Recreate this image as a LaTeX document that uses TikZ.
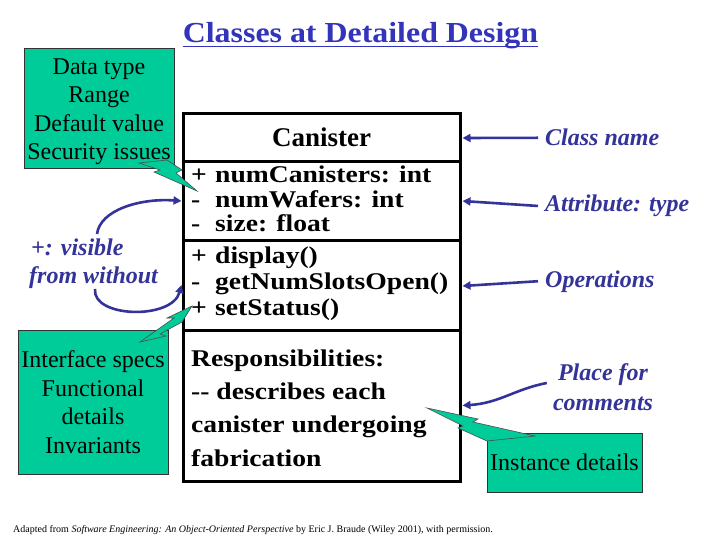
\documentclass[tikz,border=0pt]{standalone}
\usepackage{fontspec}
\setmainfont{Liberation Serif}
\newfontfamily\titleserif[FakeStretch=1.1]{Liberation Serif}
\newfontfamily\wideserif[FakeStretch=1.15]{Liberation Serif}
\usetikzlibrary{arrows.meta}

\definecolor{titleblue}{RGB}{51,51,187}
\definecolor{noteblue}{RGB}{51,51,153}
\definecolor{notegreen}{RGB}{0,204,153}

% sign column of a member line
\newcommand{\vis}[1]{\makebox[24pt][l]{#1}}

\tikzset{
  greennote/.style={draw=black!80, line width=0.8pt, fill=notegreen, inner sep=0},
  notetext/.style={inner sep=0, align=center, font=\fontsize{24}{28.5}\selectfont},
  bolt/.style={draw=black!70, line width=0.6pt, fill=notegreen},
  compart/.style={draw, line width=3pt, inner sep=0, minimum width=277},
  membertext/.style={anchor=base west, inner sep=0, font=\wideserif\bfseries\fontsize{24}{24}\selectfont},
  bluelabel/.style={anchor=base west, inner sep=0, text=noteblue, font=\bfseries\itshape\fontsize{24}{30}\selectfont},
  labelarrow/.style={draw=noteblue, line width=2.6pt, -{Triangle[length=8pt,width=8pt]}},
}

\begin{document}
\begin{tikzpicture}[x=1pt, y=-1pt]
\useasboundingbox (0,0) rectangle (720,540);

% Title
\node[anchor=base, inner sep=0, text=titleblue,
  font=\titleserif\bfseries\fontsize{29}{29}\selectfont] (title) at (360.5,43) {Classes at Detailed Design};
\draw[titleblue, line width=1.8pt] ([yshift=-3.5]title.base west) -- ([yshift=-3.5]title.base east);

% Green notes
\node[greennote, minimum width=150, minimum height=120] (datanote) at (99,108) {};
\node[notetext] (datatext) at (99,111.7) {Data type\\Range\\Default value\\Security issues};
\node[greennote, notetext, minimum width=150, minimum height=144] (ifacenote) at (93,402)
  {Interface specs\\Functional\\details\\Invariants};
\node[greennote, notetext, minimum width=155, minimum height=59] (instnote) at (564.5,462.5) {Instance details};

% Class compartments
\node[compart, minimum height=48] (cname) at (321.5,138) {};
\node[compart, minimum height=78] (attrs) at (321.5,201) {};
\node[compart, minimum height=90] (ops) at (321.5,285) {};
\node[compart, minimum height=151] (resp) at (321.5,405.5) {};

\node[anchor=base, inner sep=0, font=\bfseries\fontsize{27}{27}\selectfont] (clsnametext) at (321.5,147) {Canister};

\node[membertext] (attra) at (191,183) {\vis{+}numCanisters: int};
\node[membertext] (attrb) at (191,207.5) {\vis{-}numWafers: int};
\node[membertext] (attrc) at (191,232) {\vis{-}size: float};

\node[membertext] (opa) at (191,263) {\vis{+}display()};
\node[membertext] (opb) at (191,289) {\vis{-}getNumSlotsOpen()};
\node[membertext] (opc) at (191,315) {\vis{+}setStatus()};

\node[membertext] (respa) at (191,366) {Responsibilities:};
\node[membertext] (respb) at (191,399) {-{}- describes each};
\node[membertext] (respc) at (191,432) {canister undergoing};
\node[membertext] (respd) at (191,466) {fabrication};

% Lightning callouts
\draw[bolt] (139,163) -- (160,170) -- (154,172) -- (197,191) -- (176,173) -- (182,170) -- (167,160) -- cycle;
\draw[bolt] (192,306) -- (167,318) -- (174,318) -- (140,342) -- (166,336) -- (160,334) -- (182,322) -- cycle;
\draw[bolt] (427,408) -- (478,419) -- (473,422) -- (535,436) -- (487,441) -- (458,428) -- (463,426) -- cycle;

% Blue labels
\node[bluelabel] (clsname) at (545,146) {Class name};
\node[bluelabel] (attrlabel) at (545,211.7) {Attribute: type};
\node[bluelabel] (oplabel) at (545,287) {Operations};
\node[bluelabel, anchor=center, align=center] (comments) at (603,387) {Place for\\comments};
\node[bluelabel] (visible) at (31,255) {+: visible};
\node[bluelabel] (without) at (29,283) {from without};

\coordinate (vistop) at (97,234);
\coordinate (withoutbot) at (95,289);

% Arrows
\draw[labelarrow] ([xshift=-7]clsname.west) -- ([xshift=1]cname.east);
\draw[labelarrow] ([xshift=-7]attrlabel.west) -- ([xshift=1]attrs.east);
\draw[labelarrow] ([xshift=-7]oplabel.west) -- ([xshift=1,yshift=-1]ops.east);
\draw[labelarrow] ([xshift=-6,yshift=4]comments.west) .. controls (515,389) and (500,403) .. ([xshift=1]resp.east);
\draw[labelarrow] (vistop) .. controls (100,210) and (140,198) .. (attrs.west);
\draw[labelarrow] (withoutbot) .. controls (92,318) and (172,320) .. (ops.west);

% Credit line
\node[anchor=base west, inner sep=0, font=\fontsize{10}{10}\selectfont] (credit) at (13,532)
  {Adapted from \textit{Software Engineering: An Object-Oriented Perspective} by Eric J. Braude (Wiley 2001), with permission.};
\end{tikzpicture}
\end{document}
